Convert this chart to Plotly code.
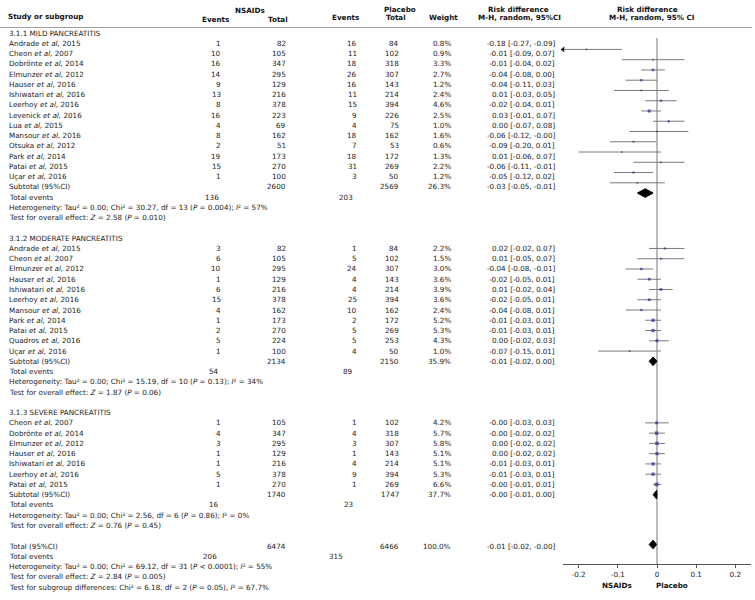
import plotly.graph_objects as go

# ---------------- DATA ----------------
mild_names = ["Andrade", "Cheon", "Dobrönte", "Elmunzer", "Hauser", "Ishiwatari", "Leerhoy",
              "Levenick", "Lua", "Mansour", "Otsuka", "Park", "Patai", "Uçar"]
mild_years = [2015, 2007, 2014, 2012, 2016, 2016, 2016, 2016, 2015, 2016, 2012, 2014, 2015, 2016]
mild_ev_n = [1, 10, 16, 14, 9, 13, 8, 16, 4, 8, 2, 19, 15, 1]
mild_tot_n = [82, 105, 347, 295, 129, 216, 378, 223, 69, 162, 51, 173, 270, 100]
mild_ev_p = [16, 11, 18, 26, 16, 11, 15, 9, 4, 18, 7, 18, 31, 3]
mild_tot_p = [84, 102, 318, 307, 143, 214, 394, 226, 75, 162, 53, 172, 269, 50]
mild_w = [0.8, 0.9, 3.3, 2.7, 1.2, 2.4, 4.6, 2.5, 1.0, 1.6, 0.6, 1.3, 2.2, 1.2]
mild_rd = [-0.18, -0.01, -0.01, -0.04, -0.04, 0.01, -0.02, 0.03, 0.00, -0.06, -0.09, 0.01, -0.06, -0.05]
mild_lo = [-0.27, -0.09, -0.04, -0.08, -0.11, -0.03, -0.04, -0.01, -0.07, -0.12, -0.20, -0.06, -0.11, -0.12]
mild_hi = [-0.09, 0.07, 0.02, 0.00, 0.03, 0.05, 0.01, 0.07, 0.08, -0.001, 0.01, 0.07, -0.01, 0.02]
mild_sub = dict(tot_n=2600, tot_p=2569, w=26.3, rd=-0.03, lo=-0.05, hi=-0.01, ev_n=136, ev_p=203,
                het="Heterogeneity: Tau² = 0.00; Chi² = 30.27, df = 13 (<i>P</i> = 0.004); <i>I</i>² = 57%",
                test="Test for overall effect: <i>Z</i> = 2.58 (<i>P</i> = 0.010)")

mod_names = ["Andrade", "Cheon", "Elmunzer", "Hauser", "Ishiwatari", "Leerhoy", "Mansour",
             "Park", "Patai", "Quadros", "Uçar"]
mod_years = [2015, 2007, 2012, 2016, 2016, 2016, 2016, 2014, 2015, 2016, 2016]
mod_ev_n = [3, 6, 10, 1, 6, 15, 4, 1, 2, 5, 1]
mod_tot_n = [82, 105, 295, 129, 216, 378, 162, 173, 270, 224, 100]
mod_ev_p = [1, 5, 24, 4, 4, 25, 10, 2, 5, 5, 4]
mod_tot_p = [84, 102, 307, 143, 214, 394, 162, 172, 269, 253, 50]
mod_w = [2.2, 1.5, 3.0, 3.6, 3.9, 3.6, 2.4, 5.2, 5.3, 4.3, 1.0]
mod_rd = [0.02, 0.01, -0.04, -0.02, 0.01, -0.02, -0.04, -0.01, -0.01, 0.00, -0.07]
mod_lo = [-0.02, -0.05, -0.08, -0.05, -0.02, -0.05, -0.08, -0.03, -0.03, -0.02, -0.15]
mod_hi = [0.07, 0.07, -0.01, 0.01, 0.04, 0.01, 0.01, 0.01, 0.01, 0.03, 0.01]
mod_sub = dict(tot_n=2134, tot_p=2150, w=35.9, rd=-0.01, lo=-0.02, hi=0.00, ev_n=54, ev_p=89,
               het="Heterogeneity: Tau² = 0.00; Chi² = 15.19, df = 10 (<i>P</i> = 0.13); <i>I</i>² = 34%",
               test="Test for overall effect: <i>Z</i> = 1.87 (<i>P</i> = 0.06)")

sev_names = ["Cheon", "Dobrönte", "Elmunzer", "Hauser", "Ishiwatari", "Leerhoy", "Patai"]
sev_years = [2007, 2014, 2012, 2016, 2016, 2016, 2015]
sev_ev_n = [1, 4, 3, 1, 1, 5, 1]
sev_tot_n = [105, 347, 295, 129, 216, 378, 270]
sev_ev_p = [1, 4, 3, 1, 4, 9, 1]
sev_tot_p = [102, 318, 307, 143, 214, 394, 269]
sev_w = [4.2, 5.7, 5.8, 5.1, 5.1, 5.3, 6.6]
sev_rd = [-0.001, -0.001, 0.00, 0.00, -0.01, -0.01, -0.001]
sev_lo = [-0.03, -0.02, -0.02, -0.02, -0.03, -0.03, -0.01]
sev_hi = [0.03, 0.02, 0.02, 0.02, 0.01, 0.01, 0.01]
sev_sub = dict(tot_n=1740, tot_p=1747, w=37.7, rd=-0.001, lo=-0.01, hi=0.00, ev_n=16, ev_p=23,
               het="Heterogeneity: Tau² = 0.00; Chi² = 2.56, df = 6 (<i>P</i> = 0.86); <i>I</i>² = 0%",
               test="Test for overall effect: <i>Z</i> = 0.76 (<i>P</i> = 0.45)")

group_titles = ["3.1.1 MILD PANCREATITIS", "3.1.2 MODERATE PANCREATITIS", "3.1.3 SEVERE PANCREATITIS"]

overall = dict(tot_n=6474, tot_p=6466, w=100.0, rd=-0.01, lo=-0.02, hi=-0.001, ev_n=206, ev_p=315,
               het="Heterogeneity: Tau² = 0.00; Chi² = 69.12, df = 31 (<i>P</i> < 0.0001); <i>I</i>² = 55%",
               test="Test for overall effect: <i>Z</i> = 2.84 (<i>P</i> = 0.005)",
               sub="Test for subgroup differences: Chi² = 6.18, df = 2 (<i>P</i> = 0.05), <i>I</i>² = 67.7%")

x_ticks = [-0.2, -0.1, 0, 0.1, 0.2]
x_tick_labels = ["-0.2", "-0.1", "0", "0.1", "0.2"]
x_range = [-0.24, 0.24]

# ---------------- LAYOUT HELPERS ----------------
W, H = 755, 600
ROW0_PX, ROW_PX = 33.0, 10.26
def r_of(py):
    return (py - ROW0_PX) / ROW_PX
def px(x):
    return x / W

FONT = "DejaVu Sans"
FS = 7.2
TXT = "#222222"
HDR = "#111111"

COL_NAME, COL_EVN, COL_TOTN, COL_EVP, COL_TOTP, COL_W, COL_CI = 8, 222, 287, 358, 400, 452, 556
# the forest marks of the first subgroup sit slightly lower than its text rows in the original
group_plot_shift = [0.6, 0.0, 0.0]

annots = []
def txt(x, r, s, anchor="left", bold=False, color=TXT):
    if bold:
        s = "<b>" + s + "</b>"
    annots.append(dict(x=px(x), y=r, xref="paper", yref="y", text=s, showarrow=False,
                       xanchor=anchor, yanchor="middle", borderpad=0,
                       font=dict(family=FONT, size=FS, color=color)))

def fmt_ci(rd, lo, hi):
    return f"{rd:.2f} [{lo:.2f}, {hi:.2f}]"

fig = go.Figure()

# headers
txt(7, r_of(16), "Study or subgroup", bold=True, color=HDR)
txt(250, r_of(10), "NSAIDs", "center", True, HDR)
txt(215, r_of(19), "Events", "center", True, HDR)
txt(278, r_of(19), "Total", "center", True, HDR)
txt(345, r_of(17), "Events", "center", True, HDR)
txt(400, r_of(9.5), "Placebo", "center", True, HDR)
txt(396, r_of(17), "Total", "center", True, HDR)
txt(444, r_of(17), "Weight", "center", True, HDR)
txt(518, r_of(9.5), "Risk difference", "center", True, HDR)
txt(519, r_of(17), "M-H, random, 95%CI", "center", True, HDR)
txt(647, r_of(9.5), "Risk difference", "center", True, HDR)
txt(652, r_of(17), "M-H, random, 95% CI", "center", True, HDR)

groups = [
    (mild_names, mild_years, mild_ev_n, mild_tot_n, mild_ev_p, mild_tot_p, mild_w, mild_rd, mild_lo, mild_hi, mild_sub),
    (mod_names, mod_years, mod_ev_n, mod_tot_n, mod_ev_p, mod_tot_p, mod_w, mod_rd, mod_lo, mod_hi, mod_sub),
    (sev_names, sev_years, sev_ev_n, sev_tot_n, sev_ev_p, sev_tot_p, sev_w, sev_rd, sev_lo, sev_hi, sev_sub),
]

line_x, line_y = [], []
mk_x, mk_y, mk_s = [], [], []
arrow_x, arrow_y = [], []
diamonds = []

row = 0
for gi, (names, years, evn, totn, evp, totp, w, rd, lo, hi, sub) in enumerate(groups):
    sh = group_plot_shift[gi]
    txt(COL_NAME, row, group_titles[gi])
    row += 1
    for i in range(len(names)):
        txt(COL_NAME, row, f"{names[i]} <i>et al,</i> {years[i]}")
        txt(COL_EVN, row, str(evn[i]), "right")
        txt(COL_TOTN, row, str(totn[i]), "right")
        txt(COL_EVP, row, str(evp[i]), "right")
        txt(COL_TOTP, row, str(totp[i]), "right")
        txt(COL_W, row, f"{w[i]:.1f}%", "right")
        txt(COL_CI, row, fmt_ci(rd[i], lo[i], hi[i]), "right")
        line_x += [lo[i], hi[i], None]
        line_y += [row + sh, row + sh, None]
        if lo[i] < x_range[0]:
            arrow_x.append(x_range[0])
            arrow_y.append(row + sh)
        mk_x.append(rd[i]); mk_y.append(row + sh); mk_s.append(1.3 + 0.38 * w[i])
        row += 1
    txt(COL_NAME, row, "Subtotal (95%CI)")
    txt(COL_TOTN, row, str(sub["tot_n"]), "right")
    txt(COL_TOTP, row, str(sub["tot_p"]), "right")
    txt(COL_W, row, f"{sub['w']:.1f}%", "right")
    txt(COL_CI, row, fmt_ci(sub["rd"], sub["lo"], sub["hi"]), "right")
    diamonds.append((sub["lo"], sub["rd"], sub["hi"], row + sh))
    row += 1
    txt(COL_NAME, row, "Total events")
    txt(COL_EVN - 2, row, str(sub["ev_n"]), "right")
    txt(COL_EVP - 4, row, str(sub["ev_p"]), "right")
    row += 1
    txt(COL_NAME, row, sub["het"])
    row += 1
    txt(COL_NAME, row, sub["test"])
    row += 2

# overall block
txt(COL_NAME, row, "Total (95%CI)")
txt(COL_TOTN, row, str(overall["tot_n"]), "right")
txt(COL_TOTP, row, str(overall["tot_p"]), "right")
txt(COL_W, row, f"{overall['w']:.1f}%", "right")
txt(COL_CI, row, fmt_ci(overall["rd"], overall["lo"], overall["hi"]), "right")
diamonds.append((overall["lo"], overall["rd"], overall["hi"], row - 0.15))
row += 1
txt(COL_NAME, row, "Total events")
txt(218, row, str(overall["ev_n"]), "right")
txt(344, row, str(overall["ev_p"]), "right")
row += 1
txt(COL_NAME, row, overall["het"])
row += 1
txt(COL_NAME, row, overall["test"])
row += 1
txt(COL_NAME, row, overall["sub"])

axis_row = r_of(564)

# zero line
fig.add_trace(go.Scatter(x=[0, 0], y=[r_of(38), axis_row], mode="lines",
                         line=dict(color="#777777", width=1), hoverinfo="skip", showlegend=False))
# CI lines
fig.add_trace(go.Scatter(x=line_x, y=line_y, mode="lines",
                         line=dict(color="#7a7a7a", width=1), hoverinfo="skip", showlegend=False))
# point estimates
fig.add_trace(go.Scatter(x=mk_x, y=mk_y, mode="markers",
                         marker=dict(symbol="square", size=mk_s, color="#2a2a9a", line=dict(width=0)),
                         showlegend=False))
# arrows for truncated CIs
if arrow_x:
    fig.add_trace(go.Scatter(x=arrow_x, y=arrow_y, mode="markers", cliponaxis=False,
                             marker=dict(symbol="triangle-left", size=5, color="#111111"),
                             showlegend=False))
# diamonds
for lo_, est, hi_, r in diamonds:
    fig.add_trace(go.Scatter(x=[lo_, est, hi_, est, lo_], y=[r, r - 0.42, r, r + 0.42, r],
                             mode="lines", fill="toself", fillcolor="#000000",
                             line=dict(color="#000000", width=1), hoverinfo="skip", showlegend=False))

# axis side labels
txt(617, r_of(585), "NSAIDs", "center", True, HDR)
txt(672, r_of(585), "Placebo", "center", True, HDR)

# header separator
shapes = [dict(type="line", xref="paper", yref="y", x0=0, x1=px(752), y0=r_of(27.5), y1=r_of(27.5),
               line=dict(color="#a0a0a0", width=1))]

fig.update_layout(
    width=W, height=H, margin=dict(l=0, r=0, t=0, b=0),
    paper_bgcolor="white", plot_bgcolor="white",
    annotations=annots, shapes=shapes, showlegend=False,
    xaxis=dict(domain=[px(563), px(751)], range=x_range, tickvals=x_ticks, ticktext=x_tick_labels,
               showline=True, linecolor="#555555", linewidth=1, ticks="outside", ticklen=3,
               tickcolor="#555555", anchor="free", position=1 - 564 / H, showgrid=False,
               zeroline=False, tickfont=dict(family=FONT, size=FS, color=TXT), fixedrange=True),
    yaxis=dict(domain=[0, 1], range=[r_of(H), r_of(0)], visible=False, fixedrange=True),
)

fig.write_html("out.html", config={"displayModeBar": False},
               post_script="document.body.style.margin='0px';document.body.style.overflow='hidden';")
